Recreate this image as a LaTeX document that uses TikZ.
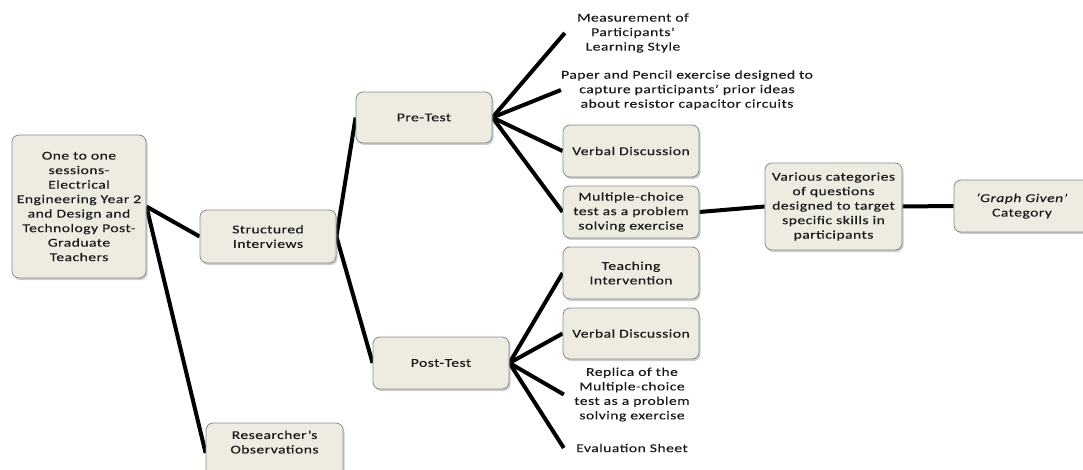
\documentclass[tikz,border=0pt]{standalone}
\usepackage{fontspec}
\setmainfont[FakeStretch=1.3,LetterSpace=4,FakeBold=0.2]{Carlito}
\usetikzlibrary{shadows,backgrounds}
\definecolor{boxfill}{HTML}{EEECE1}
\definecolor{boxline}{HTML}{8A8A8A}
\definecolor{txt}{HTML}{1A1A1A}
\begin{document}
\begin{tikzpicture}[x=1pt,y=-1pt,
  box/.style={draw=boxline, line width=0.8pt, fill=boxfill, rounded corners=7pt,
    align=center, inner sep=1pt, text=txt, font=\fontsize{12}{14.5}\selectfont,
    minimum width=136pt, minimum height=52pt,
    drop shadow={opacity=0.4, shadow xshift=1.5pt, shadow yshift=-2pt}},
  lbl/.style={align=center, text=txt, inner sep=0pt, font=\fontsize{12}{14.5}\selectfont},
  link/.style={line width=4pt, draw=black}]
\path[use as bounding box] (0,0) rectangle (1083,470);
\clip (0,0) rectangle (1083,470);

\node[box, minimum width=134pt, minimum height=143pt] (root) at (79,206.5)
  {One to one\\sessions-\\Electrical\\Engineering Year 2\\and Design and\\Technology Post-\\Graduate\\Teachers};
\node[box, minimum height=53pt] (si) at (268,236.5) {Structured\\Interviews};
\node[box, minimum height=51pt] (pre) at (424,117.5) {Pre-Test};
\node[box] (post) at (441,363) {Post-Test};
\node[box, minimum width=137pt, minimum height=60pt, text depth=22pt] (ro) at (274.5,453) {Researcher's\\Observations};

\node[lbl, text width=136pt] (meas) at (633,33) {Measurement of\\Participants'\\Learning Style};
\node[lbl] (paper) at (687,90) {Paper and Pencil exercise designed to\\capture participants' prior ideas\\about resistor capacitor circuits};
\node[box] (vd1) at (631,151) {Verbal Discussion};
\node[box] (mc) at (631,212) {Multiple-choice\\test as a problem\\solving exercise};
\node[box] (ti) at (631,273) {Teaching\\Intervention};
\node[box, minimum height=51pt] (vd2) at (631,333.5) {Verbal Discussion};
\node[lbl, text width=136pt] (rep) at (632,394.5) {Replica of the\\Multiple-choice\\test as a problem\\solving exercise};
\node[lbl, text width=136pt] (eval) at (632,448) {Evaluation Sheet};

\node[box, minimum width=137pt, minimum height=87pt] (vc) at (833.5,206.5)
  {Various categories\\of questions\\designed to target\\specific skills in\\participants};
\node[box] (gg) at (1022,206) {\textit{‘Graph Given’}\\Category};

\begin{scope}[on background layer]
\draw[link] (root.east) -- (si.west);
\draw[link] (root.east) -- (ro.west);
\draw[link] (si.east) -- (pre.west);
\draw[link] (si.east) -- (post.west);
\draw[link] (pre.east) -- (meas.west);
\draw[link] (pre.east) -- (paper.west);
\draw[link] (pre.east) -- (vd1.west);
\draw[link] (pre.east) -- (mc.west);
\draw[link] (post.east) -- (ti.west);
\draw[link] (post.east) -- (vd2.west);
\draw[link] (post.east) -- (rep.west);
\draw[link] (post.east) -- (eval.west);
\draw[link] (mc.east) -- (vc.west);
\draw[link] (vc.east) -- (gg.west);
\end{scope}
\end{tikzpicture}
\end{document}
